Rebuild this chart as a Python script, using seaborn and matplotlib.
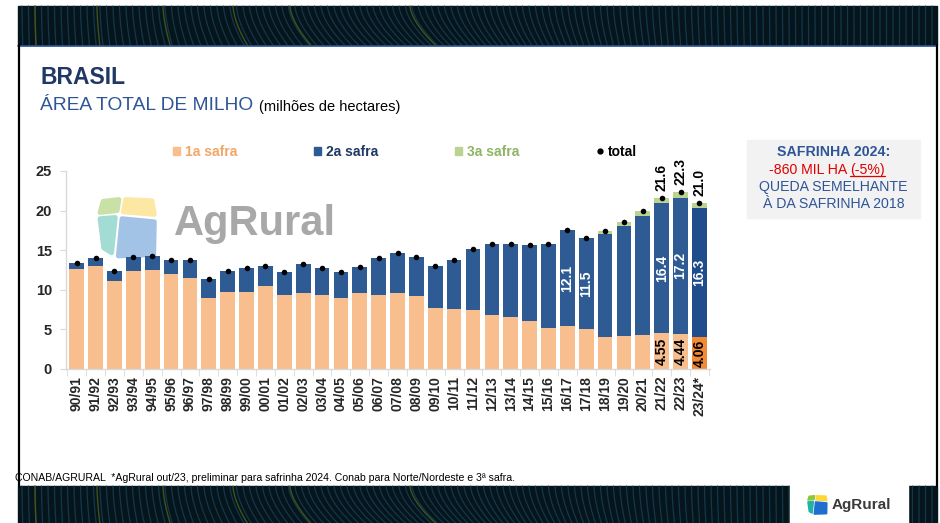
import numpy as np
import pandas as pd
import matplotlib
matplotlib.use("Agg")
import matplotlib.pyplot as plt
import seaborn as sns
from matplotlib.patches import Rectangle, Polygon, Patch
from matplotlib.lines import Line2D

# ---- data (milhões de hectares) ----
seasons = ["90/91", "91/92", "92/93", "93/94", "94/95", "95/96", "96/97", "97/98",
           "98/99", "99/00", "00/01", "01/02", "02/03", "03/04", "04/05", "05/06",
           "06/07", "07/08", "08/09", "09/10", "10/11", "11/12", "12/13", "13/14",
           "14/15", "15/16", "16/17", "17/18", "18/19", "19/20", "20/21", "21/22",
           "22/23", "23/24*"]
safra1 = [12.6, 13.0, 11.1, 12.4, 12.5, 12.0, 11.5, 9.0, 9.7, 9.7, 10.5, 9.4,
          9.6, 9.4, 9.0, 9.6, 9.4, 9.6, 9.2, 7.7, 7.6, 7.5, 6.8, 6.6, 6.1, 5.2,
          5.4, 5.0, 4.1, 4.2, 4.3, 4.55, 4.44, 4.06]
safra2 = [0.8, 1.0, 1.3, 1.7, 1.8, 1.7, 2.3, 2.4, 2.7, 3.0, 2.5, 2.9, 3.6, 3.4,
          3.2, 3.3, 4.6, 5.1, 4.9, 5.3, 6.2, 7.6, 9.0, 9.2, 9.6, 10.6, 12.1,
          11.5, 12.9, 13.8, 15.0, 16.4, 17.2, 16.3]
safra3 = [0, 0, 0, 0, 0, 0, 0, 0, 0, 0, 0, 0, 0, 0, 0, 0, 0, 0, 0, 0, 0, 0, 0,
          0, 0, 0, 0, 0, 0.4, 0.5, 0.6, 0.65, 0.66, 0.64]
label_safra1 = ["21/22", "22/23", "23/24*"]
label_safra2 = ["16/17", "17/18", "21/22", "22/23", "23/24*"]
label_total = ["21/22", "22/23", "23/24*"]

legend_labels = ["1a safra", "2a safra", "3a safra", "total"]

df = pd.DataFrame({"safra": seasons, "s1": safra1, "s2": safra2, "s3": safra3})
df["cum2"] = df["s1"] + df["s2"]
df["total"] = (df["cum2"] + df["s3"]).round(2)
n = len(df)

# ---- colours ----
C_PEACH = "#F8BE8D"
C_ORANGE = "#F28A35"
C_BLUE = "#2F5B94"
C_BLUE_DK = "#1F4C8C"
C_GREEN = "#BAD391"
NAVY = "#1F3864"
MIDBLUE = "#2F5597"

sns.set_style("white")
plt.rcParams["font.family"] = ["Liberation Sans", "DejaVu Sans"]

W, H = 940, 523
fig = plt.figure(figsize=(W / 100, H / 100), dpi=100)
fig.patch.set_facecolor("white")

# background layer in pixel coordinates
bg = fig.add_axes([0, 0, 1, 1], zorder=-1)
bg.set_xlim(0, W)
bg.set_ylim(H, 0)
bg.axis("off")


def band(y0, y1):
    bg.add_patch(Rectangle((18, y0), 937 - 18, y1 - y0, color="#05151B", zorder=1))
    t = np.linspace(0, 1, 20)
    for x0 in np.arange(22, 935, 6.5):
        bend = 26 * np.exp(-((x0 - 380) / 190) ** 2)
        xs = x0 + bend * t ** 1.6
        ys = y0 + (y1 - y0) * t
        keep = xs < 935
        bg.plot(xs[keep], ys[keep], color="#164058", lw=0.9, alpha=0.8, zorder=2)
    for x0 in (35, 97, 163, 233, 290, 410):
        bend = 26 * np.exp(-((x0 - 380) / 190) ** 2)
        bg.plot(x0 + bend * t ** 1.6, y0 + (y1 - y0) * t, color="#4C5B1C",
                lw=1.0, alpha=0.85, zorder=3)


band(6, 45)
bg.plot([18, 937], [45.5, 45.5], color=MIDBLUE, lw=1.2, zorder=4)
band(486, 523)
bg.plot([18.5, 18.5], [45, 486], color="black", lw=1.6, zorder=4)
bg.plot([937, 937], [45, 486], color="black", lw=1.6, zorder=4)


def icon(x0, y0, w, h, cols, z=5, lw=3.0):
    shapes = [
        [(0.10, 0.07), (0.36, 0.04), (0.33, 0.22), (0.05, 0.25)],
        [(0.47, 0.04), (0.90, 0.06), (0.94, 0.28), (0.43, 0.24)],
        [(0.05, 0.35), (0.30, 0.33), (0.24, 0.90), (0.11, 0.82)],
        [(0.41, 0.35), (0.94, 0.40), (0.93, 0.93), (0.35, 0.95)],
    ]
    for pts, c in zip(shapes, cols):
        bg.add_patch(Polygon([(x0 + u * w, y0 + v * h) for u, v in pts],
                             closed=True, facecolor=c, edgecolor=c, lw=lw,
                             joinstyle="round", zorder=z))


# faded watermark inside the plotting area
icon(97, 197, 61, 62, ["#C9E1A6", "#FCE8A2", "#A2DCD2", "#A3C3E6"], z=5, lw=3.5)
bg.text(174, 224, "AgRural", fontsize=30, fontweight="bold", color="#A8A8A8",
        va="center", ha="left", zorder=5)

# logo in the lower band
bg.add_patch(Rectangle((790, 485), 118, 38, color="white", zorder=6))
icon(807, 495, 21, 20, ["#8DC63F", "#FDD835", "#22B3A5", "#1E6FD0"], z=7, lw=1.2)
bg.text(832, 505, "AgRural", fontsize=11, fontweight="bold", color="#3A3A3A",
        va="center", ha="left", zorder=7)

# titles
bg.text(40, 84, "BRASIL", fontsize=16.5, fontweight="bold", color=NAVY, va="baseline")
t1 = bg.text(40, 110, "ÁREA TOTAL DE MILHO", fontsize=13.8, color=MIDBLUE, va="baseline")
bg.annotate("(milhões de hectares)", xy=(1, 0), xycoords=t1, xytext=(4, 0),
            textcoords="offset points", fontsize=10.5, color="black",
            va="bottom", ha="left")

# footer
bg.text(15, 478, "CONAB/AGRURAL  *AgRural out/23, preliminar para safrinha 2024. "
        "Conab para Norte/Nordeste e 3ª safra.", fontsize=7.6, color="black",
        va="center", ha="left")

# side note box
bg.add_patch(Rectangle((747, 140), 173, 78, color="#F2F2F2", zorder=1))
cx = 833.5
bg.text(cx, 152, "SAFRINHA 2024:", fontsize=10.2, fontweight="bold", color=MIDBLUE,
        ha="center", va="center", zorder=3)
r1 = bg.text(cx - 24, 170, "-860 MIL HA ", fontsize=10.2, color="#E00000",
             ha="center", va="center", zorder=3)
r2 = bg.annotate("(-5%)", xy=(1, 0.5), xycoords=r1, xytext=(0, 0),
                 textcoords="offset points", fontsize=10.2, color="#E00000",
                 ha="left", va="center", zorder=3)
bg.text(cx, 187, "QUEDA SEMELHANTE", fontsize=10.2, color=MIDBLUE,
        ha="center", va="center", zorder=3)
bg.text(cx, 204, "À DA SAFRINHA 2018", fontsize=10.2, color=MIDBLUE,
        ha="center", va="center", zorder=3)

# ---- main chart ----
ax = fig.add_axes([66 / W, 1 - 369 / H, (710 - 66) / W, (369 - 171) / H])
ax.patch.set_alpha(0)

pal3 = [C_GREEN] * n
pal2 = [C_BLUE] * (n - 1) + [C_BLUE_DK]
pal1 = [C_PEACH] * (n - 1) + [C_ORANGE]
common = dict(data=df, x="safra", hue="safra", order=seasons, hue_order=seasons,
              legend=False, width=0.78, saturation=1, dodge=False,
              errorbar=None, linewidth=0, ax=ax)
sns.barplot(y="total", palette=pal3, **common)
sns.barplot(y="cum2", palette=pal2, **common)
sns.barplot(y="s1", palette=pal1, **common)

xpos = np.arange(n)
ax.scatter(xpos, df["total"], s=16, color="black", zorder=6, linewidths=0)

idx = {s: i for i, s in enumerate(seasons)}
for s in label_safra2:
    i = idx[s]
    ax.text(i, df.s1[i] + df.s2[i] / 2, f"{df.s2[i]:.1f}", rotation=90,
            ha="center", va="center", color="white", fontsize=10,
            fontweight="bold", zorder=7)
for s in label_safra1:
    i = idx[s]
    ax.text(i, df.s1[i] / 2, f"{df.s1[i]:.2f}", rotation=90, ha="center",
            va="center", color="black", fontsize=10, fontweight="bold", zorder=7)
for s in label_total:
    i = idx[s]
    ax.annotate(f"{df.total[i]:.1f}", xy=(i, df.total[i]), xytext=(0, 5),
                textcoords="offset points", rotation=90, ha="center",
                va="bottom", color="black", fontsize=10, fontweight="bold",
                zorder=7, annotation_clip=False)

ax.set_xlim(-0.57, n - 0.44)
ax.set_ylim(0, 25)
ax.set_xlabel("")
ax.set_ylabel("")
ax.set_yticks([0, 5, 10, 15, 20, 25])
ax.set_yticklabels(["0", "5", "10", "15", "20", "25"], fontweight="bold")
ax.set_xticks(xpos)
ax.set_xticklabels(seasons, rotation=90, fontweight="bold")
ax.set_xticks(np.arange(-0.5, n, 1), minor=True)
ax.tick_params(axis="y", length=4, color="#D9D9D9", labelsize=10.5, pad=6,
               left=True)
ax.tick_params(axis="x", which="major", length=0, labelsize=10, pad=5)
ax.tick_params(axis="x", which="minor", length=5, color="#D9D9D9", bottom=True)
for side in ("top", "right"):
    ax.spines[side].set_visible(False)
for side in ("left", "bottom"):
    ax.spines[side].set_color("#D9D9D9")
    ax.spines[side].set_linewidth(1)

# legend
handles = [Patch(color=C_PEACH), Patch(color=C_BLUE), Patch(color=C_GREEN),
           Line2D([], [], marker="o", color="black", ls="", markersize=3.5)]
fig.legend(handles, legend_labels, loc="center", ncol=4, mode="expand",
           bbox_to_anchor=(160 / W, 1 - 152 / H, 490 / W, 0), frameon=False,
           handlelength=0.55, handleheight=0.55, handletextpad=0.35,
           prop={"weight": "bold", "size": 10},
           labelcolor=["#F2A764", NAVY, "#8DB564", "black"])

# underline for the percentage
fig.canvas.draw()
bb = r2.get_window_extent()
y_ul = bb.y0 + 1
fig.add_artist(Line2D([bb.x0 / W, bb.x1 / W], [y_ul / H, y_ul / H],
                      color="#E00000", lw=0.9))

fig.savefig("out.png", dpi=100)
